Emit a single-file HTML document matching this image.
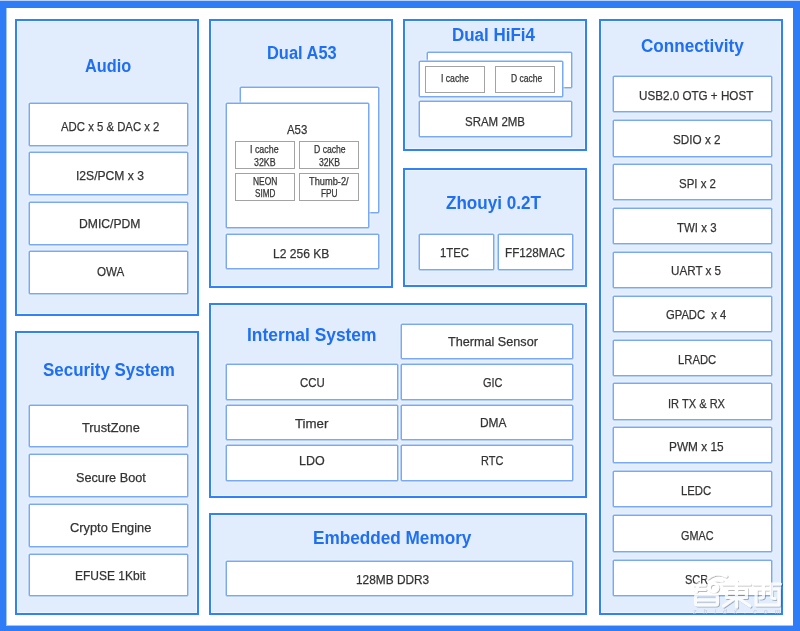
<!DOCTYPE html>
<html><head><meta charset="utf-8"><style>
*{margin:0;padding:0;box-sizing:border-box}
html,body{width:800px;height:631px;overflow:hidden;background:#2f7df6}
body{position:relative;font-family:"Liberation Sans",sans-serif}
.a{position:absolute}
.p{position:absolute;background:#e1edfd;border:2px solid #3282f7;box-shadow:inset 0 0 0 1px rgba(255,255,255,.45)}
.b{position:absolute;background:#fff;border:1px solid #79a9f6;border-radius:1px;box-shadow:0 0 0 0.5px #79a9f6,0 0 0 1.5px rgba(255,255,255,.45)}
.g{position:absolute;background:#fff;border:1px solid #a3a3a3}
.t{position:absolute;white-space:pre;line-height:1;transform-origin:0 0;-webkit-text-stroke:0.25px currentColor}
</style></head><body>

<div class="a" style="left:0;top:0;width:800px;height:1px;background:#b9d2fb"></div>
<div class="a" style="left:6px;top:8px;width:787px;height:618px;background:rgba(255,255,255,.55)"></div>
<div class="a" style="left:7px;top:8px;width:786px;height:617px;background:#fff"></div>
<div class="p" style="left:15px;top:19px;width:184px;height:297px"></div>
<div class="p" style="left:15px;top:331px;width:184px;height:284px"></div>
<div class="p" style="left:209px;top:19px;width:184px;height:269px"></div>
<div class="p" style="left:403px;top:19px;width:184px;height:132px"></div>
<div class="p" style="left:403px;top:168px;width:184px;height:119px"></div>
<div class="p" style="left:209px;top:303px;width:378px;height:195px"></div>
<div class="p" style="left:209px;top:513px;width:378px;height:102px"></div>
<div class="p" style="left:599px;top:19px;width:184px;height:596px"></div>
<div class="b" style="left:29px;top:103px;width:159px;height:43px"></div>
<div class="b" style="left:29px;top:152px;width:159px;height:43px"></div>
<div class="b" style="left:29px;top:202px;width:159px;height:43px"></div>
<div class="b" style="left:29px;top:251px;width:159px;height:43px"></div>
<div class="b" style="left:29px;top:405px;width:159px;height:42px"></div>
<div class="b" style="left:29px;top:454px;width:159px;height:43px"></div>
<div class="b" style="left:29px;top:504px;width:159px;height:43px"></div>
<div class="b" style="left:29px;top:554px;width:159px;height:42px"></div>
<div class="b" style="left:240px;top:87px;width:139px;height:126px"></div>
<div class="b" style="left:226px;top:103px;width:143px;height:125px"></div>
<div class="b" style="left:226px;top:234px;width:153px;height:35px"></div>
<div class="b" style="left:427px;top:52px;width:145px;height:36px"></div>
<div class="b" style="left:419px;top:61px;width:144px;height:36px"></div>
<div class="b" style="left:419px;top:101px;width:153px;height:36px"></div>
<div class="b" style="left:419px;top:234px;width:75px;height:36px"></div>
<div class="b" style="left:498px;top:234px;width:75px;height:36px"></div>
<div class="b" style="left:401px;top:324px;width:172px;height:35px"></div>
<div class="b" style="left:226px;top:364px;width:172px;height:36px"></div>
<div class="b" style="left:401px;top:364px;width:172px;height:36px"></div>
<div class="b" style="left:226px;top:405px;width:172px;height:35px"></div>
<div class="b" style="left:401px;top:405px;width:172px;height:35px"></div>
<div class="b" style="left:226px;top:445px;width:172px;height:36px"></div>
<div class="b" style="left:401px;top:445px;width:172px;height:36px"></div>
<div class="b" style="left:226px;top:561px;width:347px;height:35px"></div>
<div class="b" style="left:613px;top:76px;width:159px;height:36px"></div>
<div class="b" style="left:613px;top:120px;width:159px;height:37px"></div>
<div class="b" style="left:613px;top:164px;width:159px;height:36px"></div>
<div class="b" style="left:613px;top:208px;width:159px;height:36px"></div>
<div class="b" style="left:613px;top:252px;width:159px;height:36px"></div>
<div class="b" style="left:613px;top:296px;width:159px;height:36px"></div>
<div class="b" style="left:613px;top:340px;width:159px;height:36px"></div>
<div class="b" style="left:613px;top:383px;width:159px;height:37px"></div>
<div class="b" style="left:613px;top:427px;width:159px;height:36px"></div>
<div class="b" style="left:613px;top:471px;width:159px;height:36px"></div>
<div class="b" style="left:613px;top:515px;width:159px;height:37px"></div>
<div class="b" style="left:613px;top:560px;width:159px;height:36px"></div>
<div class="g" style="left:235px;top:141px;width:60px;height:28px"></div>
<div class="g" style="left:299px;top:141px;width:60px;height:28px"></div>
<div class="g" style="left:235px;top:173px;width:60px;height:28px"></div>
<div class="g" style="left:299px;top:173px;width:60px;height:28px"></div>
<div class="g" style="left:425px;top:66px;width:60px;height:27px"></div>
<div class="g" style="left:495px;top:66px;width:60px;height:27px"></div>
<div class="t" style="left:85.00px;top:56.50px;font-size:18px;font-weight:bold;-webkit-text-stroke:0;color:#1f6ff0;transform:scaleX(0.906)">Audio</div>
<div class="t" style="left:266.59px;top:43.75px;font-size:18px;font-weight:bold;-webkit-text-stroke:0;color:#1f6ff0;transform:scaleX(0.913)">Dual A53</div>
<div class="t" style="left:451.81px;top:26.25px;font-size:18px;font-weight:bold;-webkit-text-stroke:0;color:#1f6ff0;transform:scaleX(0.942)">Dual HiFi4</div>
<div class="t" style="left:446.20px;top:194.10px;font-size:18px;font-weight:bold;-webkit-text-stroke:0;color:#1f6ff0;transform:scaleX(0.949)">Zhouyi 0.2T</div>
<div class="t" style="left:641.00px;top:36.90px;font-size:18px;font-weight:bold;-webkit-text-stroke:0;color:#1f6ff0;transform:scaleX(0.951)">Connectivity</div>
<div class="t" style="left:42.90px;top:360.60px;font-size:18px;font-weight:bold;-webkit-text-stroke:0;color:#1f6ff0;transform:scaleX(0.941)">Security System</div>
<div class="t" style="left:246.93px;top:325.75px;font-size:18px;font-weight:bold;-webkit-text-stroke:0;color:#1f6ff0;transform:scaleX(0.966)">Internal System</div>
<div class="t" style="left:313.05px;top:528.60px;font-size:18px;font-weight:bold;-webkit-text-stroke:0;color:#1f6ff0;transform:scaleX(0.954)">Embedded Memory</div>
<div class="t" style="left:61.00px;top:120.40px;font-size:13.5px;color:#333333;transform:scaleX(0.841)">ADC x 5 &amp; DAC x 2</div>
<div class="t" style="left:76.40px;top:169.20px;font-size:13.5px;color:#333333;transform:scaleX(0.897)">I2S/PCM x 3</div>
<div class="t" style="left:79.30px;top:217.30px;font-size:13.5px;color:#333333;transform:scaleX(0.900)">DMIC/PDM</div>
<div class="t" style="left:96.80px;top:265.20px;font-size:13.5px;color:#333333;transform:scaleX(0.860)">OWA</div>
<div class="t" style="left:81.80px;top:420.70px;font-size:13.5px;color:#333333;transform:scaleX(0.947)">TrustZone</div>
<div class="t" style="left:75.50px;top:470.70px;font-size:13.5px;color:#333333;transform:scaleX(0.939)">Secure Boot</div>
<div class="t" style="left:70.10px;top:520.50px;font-size:13.5px;color:#333333;transform:scaleX(0.950)">Crypto Engine</div>
<div class="t" style="left:74.61px;top:569.00px;font-size:13.5px;color:#333333;transform:scaleX(0.889)">EFUSE 1Kbit</div>
<div class="t" style="left:272.91px;top:246.70px;font-size:13.5px;color:#333333;transform:scaleX(0.894)">L2 256 KB</div>
<div class="t" style="left:465.00px;top:114.50px;font-size:13.5px;color:#333333;transform:scaleX(0.851)">SRAM 2MB</div>
<div class="t" style="left:440.41px;top:246.00px;font-size:13.5px;color:#333333;transform:scaleX(0.837)">1TEC</div>
<div class="t" style="left:504.88px;top:246.00px;font-size:13.5px;color:#333333;transform:scaleX(0.868)">FF128MAC</div>
<div class="t" style="left:299.60px;top:375.80px;font-size:13.5px;color:#333333;transform:scaleX(0.846)">CCU</div>
<div class="t" style="left:295.00px;top:417.00px;font-size:13.5px;color:#333333;transform:scaleX(0.983)">Timer</div>
<div class="t" style="left:298.67px;top:454.20px;font-size:13.5px;color:#333333;transform:scaleX(0.925)">LDO</div>
<div class="t" style="left:448.40px;top:334.90px;font-size:13.5px;color:#333333;transform:scaleX(0.936)">Thermal Sensor</div>
<div class="t" style="left:483.10px;top:375.90px;font-size:13.5px;color:#333333;transform:scaleX(0.808)">GIC</div>
<div class="t" style="left:479.62px;top:416.40px;font-size:13.5px;color:#333333;transform:scaleX(0.883)">DMA</div>
<div class="t" style="left:481.49px;top:453.80px;font-size:13.5px;color:#333333;transform:scaleX(0.811)">RTC</div>
<div class="t" style="left:355.62px;top:573.10px;font-size:13.5px;color:#333333;transform:scaleX(0.879)">128MB DDR3</div>
<div class="t" style="left:639.14px;top:88.90px;font-size:13.5px;color:#333333;transform:scaleX(0.863)">USB2.0 OTG + HOST</div>
<div class="t" style="left:673.30px;top:132.60px;font-size:13.5px;color:#333333;transform:scaleX(0.868)">SDIO x 2</div>
<div class="t" style="left:678.50px;top:177.30px;font-size:13.5px;color:#333333;transform:scaleX(0.849)">SPI x 2</div>
<div class="t" style="left:677.00px;top:221.00px;font-size:13.5px;color:#333333;transform:scaleX(0.850)">TWI x 3</div>
<div class="t" style="left:671.34px;top:264.10px;font-size:13.5px;color:#333333;transform:scaleX(0.863)">UART x 5</div>
<div class="t" style="left:666.20px;top:307.60px;font-size:13.5px;color:#333333;transform:scaleX(0.831)">GPADC  x 4</div>
<div class="t" style="left:677.66px;top:353.00px;font-size:13.5px;color:#333333;transform:scaleX(0.835)">LRADC</div>
<div class="t" style="left:667.68px;top:396.60px;font-size:13.5px;color:#333333;transform:scaleX(0.820)">IR TX &amp; RX</div>
<div class="t" style="left:669.02px;top:440.00px;font-size:13.5px;color:#333333;transform:scaleX(0.877)">PWM x 15</div>
<div class="t" style="left:681.36px;top:484.00px;font-size:13.5px;color:#333333;transform:scaleX(0.839)">LEDC</div>
<div class="t" style="left:680.50px;top:529.00px;font-size:13.5px;color:#333333;transform:scaleX(0.802)">GMAC</div>
<div class="t" style="left:685.00px;top:573.00px;font-size:13.5px;color:#333333;transform:scaleX(0.814)">SCR</div>
<div class="t" style="left:287.00px;top:123.40px;font-size:13px;color:#333333;transform:scaleX(0.878)">A53</div>
<div class="t" style="left:250.20px;top:144.00px;font-size:10.5px;color:#333333;transform:scaleX(0.844)">I cache</div>
<div class="t" style="left:253.60px;top:156.60px;font-size:10.5px;color:#333333;transform:scaleX(0.841)">32KB</div>
<div class="t" style="left:313.50px;top:144.00px;font-size:10.5px;color:#333333;transform:scaleX(0.822)">D cache</div>
<div class="t" style="left:318.60px;top:156.60px;font-size:10.5px;color:#333333;transform:scaleX(0.822)">32KB</div>
<div class="t" style="left:252.80px;top:175.70px;font-size:10.5px;color:#333333;transform:scaleX(0.803)">NEON</div>
<div class="t" style="left:254.50px;top:188.20px;font-size:10.5px;color:#333333;transform:scaleX(0.776)">SIMD</div>
<div class="t" style="left:309.30px;top:175.70px;font-size:10.5px;color:#333333;transform:scaleX(0.882)">Thumb-2/</div>
<div class="t" style="left:321.10px;top:188.20px;font-size:10.5px;color:#333333;transform:scaleX(0.789)">FPU</div>
<div class="t" style="left:440.75px;top:74.00px;font-size:10px;color:#333333;transform:scaleX(0.864)">I cache</div>
<div class="t" style="left:510.50px;top:74.00px;font-size:10px;color:#333333;transform:scaleX(0.849)">D cache</div>
<svg class="a" style="left:0;top:0" width="800" height="631" viewBox="0 0 800 631">
<defs><filter id="sh" x="-10%" y="-10%" width="120%" height="120%"><feGaussianBlur in="SourceAlpha" stdDeviation="0.7"/><feOffset dx="0.6" dy="0.8"/><feComponentTransfer><feFuncA type="linear" slope="0.35"/></feComponentTransfer><feMerge><feMergeNode/><feMergeNode in="SourceGraphic"/></feMerge></filter></defs>
<g filter="url(#sh)" fill="none" stroke="#fff" stroke-width="3.1" stroke-linecap="round" stroke-linejoin="round" opacity="0.8">
<path d="M708 578 Q716 571 726 576"/>
<path d="M709 582.5 Q715 578.5 722 581"/>
<circle cx="713.5" cy="587.5" r="4.2"/>
<path d="M694.5 585 H705 M694.5 589.5 H705 M699 583 L696 592"/>
<rect x="695.5" y="595" width="22" height="10" rx="2"/>
<path d="M696 600 H717"/>
<path d="M723 584 H750 M736.5 581 V607 M726.5 588.5 H746.5 V597.5 H726.5 Z M726.5 593 H746.5 M735 598 L723.5 606 M738 598 L750 606"/>
<path d="M753.5 584 H780.5 M756 589 H779 V605 H756 Z M763.5 584 V596 Q763.5 598 760 598 M771.5 584 V597 Q771.5 598.5 775 598.5"/>
</g>
<text x="693" y="613.5" font-family="Liberation Sans" font-style="italic" font-size="7" letter-spacing="7" fill="#bfc6d0" opacity="0.8">zhidx.com</text>
</svg>
</body></html>
